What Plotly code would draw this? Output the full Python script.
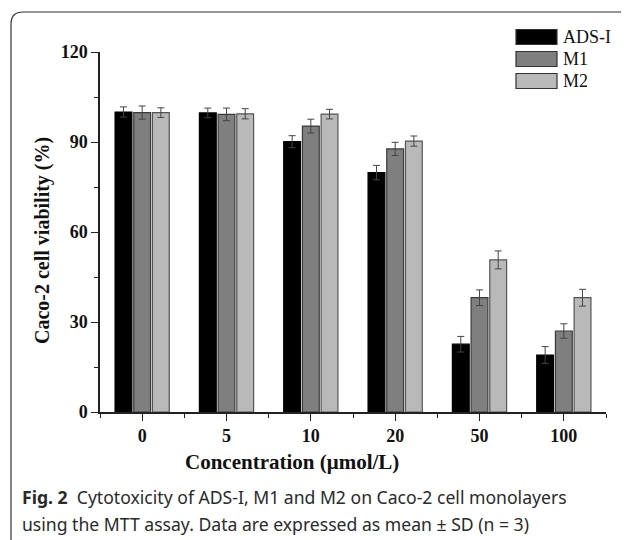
import plotly.graph_objects as go

# The page body has an 8px margin, so the figure is sized to fit the 629x540 window.
OFF = 8
W, H = 629 - OFF, 540 - OFF

concentrations = ["0", "5", "10", "20", "50", "100"]
series_names = ["ADS-I", "M1", "M2"]
ads_i_mean = [100.0, 99.7, 90.1, 79.8, 22.6, 19.0]
ads_i_sd = [1.7, 1.6, 2.0, 2.4, 2.6, 2.8]
m1_mean = [99.8, 99.2, 95.3, 87.7, 38.1, 27.0]
m1_sd = [2.2, 2.1, 2.3, 2.2, 2.6, 2.4]
m2_mean = [99.8, 99.4, 99.3, 90.3, 50.7, 38.1]
m2_sd = [1.6, 1.7, 1.6, 1.7, 3.0, 2.8]
y_ticks = [0, 30, 60, 90, 120]

means = [ads_i_mean, m1_mean, m2_mean]
sds = [ads_i_sd, m1_sd, m2_sd]
fills = ["#000000", "#7f7f7f", "#b9b9b9"]
edges = ["#000000", "#3a3a3a", "#555555"]

def px(x):
    return (x - OFF) / W

def py(y):
    return 1 - (y - OFF) / H

xpos = list(range(len(concentrations)))

fig = go.Figure()
for name, m, s, f, e in zip(series_names, means, sds, fills, edges):
    fig.add_trace(go.Bar(
        x=xpos, y=m, name=name,
        marker=dict(color=f, line=dict(color=e, width=1.2)),
        error_y=dict(type="data", array=s, color="#444444", thickness=1, width=3.5),
        showlegend=False,
    ))

serif = "Liberation Serif"
fig.update_layout(
    template="none",
    width=W, height=H,
    margin=dict(l=0, r=0, t=0, b=0, pad=0, autoexpand=False),
    paper_bgcolor="white", plot_bgcolor="white",
    showlegend=False,
    barmode="group", bargap=0.335, bargroupgap=0.1,
    xaxis=dict(
        automargin=False,
        domain=[px(100), px(606)], range=[-0.5, 5.5],
        tickmode="array", tickvals=xpos, ticktext=concentrations,
        ticks="outside", ticklen=7, tickwidth=1.3, tickcolor="#222",
        showline=True, linecolor="#222", linewidth=1.5,
        showgrid=False, zeroline=False,
        tickfont=dict(family=serif, size=18, color="#111", weight="bold"),
        minor=dict(tickvals=[i - 0.5 for i in range(len(concentrations) + 1)],
                   ticks="outside", ticklen=4, tickwidth=1.3, tickcolor="#222",
                   showgrid=False),
    ),
    yaxis=dict(
        automargin=False,
        domain=[py(412), py(52)], range=[0, 120],
        tickmode="array", tickvals=y_ticks,
        ticks="outside", ticklen=7, tickwidth=1.3, tickcolor="#222",
        showline=True, linecolor="#222", linewidth=1.5,
        showgrid=False, zeroline=False,
        tickfont=dict(family=serif, size=18, color="#111", weight="bold"),
        minor=dict(tickvals=[15, 45, 75, 105], ticks="outside", ticklen=4,
                   tickwidth=1.3, tickcolor="#222", showgrid=False),
    ),
)

annotations = [
    dict(text="Concentration (μmol/L)", x=px(292), y=py(462), xref="paper", yref="paper",
         showarrow=False, xanchor="center", yanchor="middle",
         font=dict(family=serif, size=21, color="#111", weight="bold")),
    dict(text="Caco-2 cell viability (%)", x=px(42), y=py(241), xref="paper", yref="paper",
         showarrow=False, xanchor="center", yanchor="middle", textangle=-90,
         font=dict(family=serif, size=20, color="#111", weight="bold")),
    dict(text="<b>Fig. 2</b>  Cytotoxicity of ADS-I, M1 and M2 on Caco-2 cell monolayers",
         x=px(20), y=py(497), xref="paper", yref="paper", showarrow=False,
         xanchor="left", yanchor="middle",
         font=dict(family="Noto Sans", size=17.6, color="#2a2a2a")),
    dict(text="using the MTT assay. Data are expressed as mean ± SD (n = 3)",
         x=px(20), y=py(524), xref="paper", yref="paper", showarrow=False,
         xanchor="left", yanchor="middle",
         font=dict(family="Noto Sans", size=17.6, color="#2a2a2a")),
]

shapes = [
    dict(type="path", xref="paper", yref="paper",
         path=f"M {px(11)},{py(540)} L {px(11)},{py(24)} Q {px(11)},{py(12)} {px(23)},{py(12)} "
              f"L {px(620)},{py(12)} Q {px(628)},{py(12)} {px(629)},{py(18)}",
         line=dict(color="#333", width=1.2)),
]

legend_rows = [37, 59, 81]
for name, f, e, yr in zip(series_names, fills, edges, legend_rows):
    shapes.append(dict(type="rect", xref="paper", yref="paper",
                       x0=px(516), x1=px(557), y0=py(yr - 7.5), y1=py(yr + 7.5),
                       fillcolor=f, line=dict(color="#333", width=1.2)))
    annotations.append(dict(text=name, x=px(561), y=py(yr), xref="paper", yref="paper",
                            showarrow=False, xanchor="left", yanchor="middle",
                            font=dict(family=serif, size=18, color="#111")))

fig.update_layout(annotations=annotations, shapes=shapes)
fig.write_html("out.html")
